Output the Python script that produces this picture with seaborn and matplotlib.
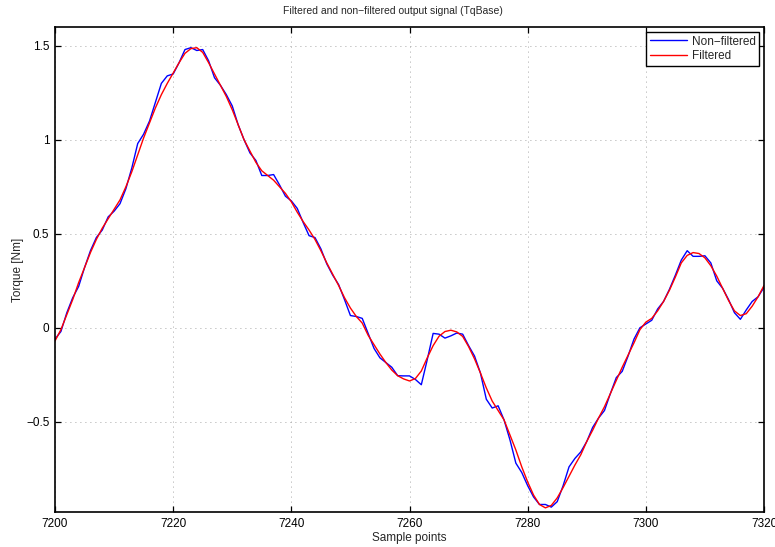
import numpy as np
import pandas as pd
import matplotlib
matplotlib.use("Agg")
import matplotlib.pyplot as plt
import seaborn as sns

# Sample index of the torque record
samples = list(range(7200, 7321))

# Raw torque output (TqBase), one value per sample
torque_raw = [
    -0.06, -0.02, 0.08, 0.16, 0.22, 0.32, 0.41, 0.48, 0.52, 0.59,
    0.62, 0.66, 0.74, 0.85, 0.98, 1.03, 1.10, 1.20, 1.30, 1.34,
    1.35, 1.41, 1.48, 1.49, 1.475, 1.48, 1.42, 1.33, 1.29, 1.24,
    1.18, 1.08, 1.00, 0.93, 0.89, 0.81, 0.81, 0.815, 0.76, 0.70,
    0.675, 0.635, 0.56, 0.49, 0.48, 0.42, 0.34, 0.28, 0.23, 0.15,
    0.065, 0.06, 0.05, -0.03, -0.11, -0.16, -0.185, -0.21, -0.255, -0.256,
    -0.256, -0.275, -0.303, -0.17, -0.03, -0.034, -0.055, -0.043, -0.028, -0.034,
    -0.095, -0.15, -0.24, -0.38, -0.427, -0.415, -0.49, -0.596, -0.72, -0.77,
    -0.84, -0.90, -0.94, -0.94, -0.954, -0.925, -0.84, -0.74, -0.695, -0.66,
    -0.605, -0.53, -0.48, -0.44, -0.35, -0.265, -0.232, -0.15, -0.06, 0.0,
    0.02, 0.04, 0.10, 0.14, 0.205, 0.28, 0.36, 0.41, 0.38, 0.38,
    0.383, 0.345, 0.25, 0.21, 0.15, 0.08, 0.045, 0.095, 0.14, 0.165,
    0.215,
]

# Filtered torque output, one value per sample
torque_filtered = [
    -0.07, -0.01, 0.07, 0.15, 0.24, 0.32, 0.40, 0.47, 0.53, 0.58,
    0.63, 0.68, 0.75, 0.83, 0.92, 1.01, 1.09, 1.17, 1.24, 1.30,
    1.355, 1.41, 1.46, 1.485, 1.49, 1.465, 1.41, 1.35, 1.29, 1.23,
    1.16, 1.08, 1.00, 0.94, 0.88, 0.835, 0.81, 0.785, 0.75, 0.715,
    0.67, 0.615, 0.565, 0.52, 0.47, 0.41, 0.345, 0.285, 0.225, 0.16,
    0.105, 0.06, 0.025, -0.04, -0.09, -0.14, -0.185, -0.225, -0.255, -0.272,
    -0.283, -0.27, -0.23, -0.16, -0.095, -0.045, -0.02, -0.013, -0.022, -0.046,
    -0.10, -0.165, -0.24, -0.32, -0.39, -0.44, -0.49, -0.57, -0.65, -0.74,
    -0.82, -0.89, -0.94, -0.958, -0.945, -0.905, -0.85, -0.79, -0.73, -0.675,
    -0.605, -0.545, -0.48, -0.42, -0.35, -0.28, -0.21, -0.145, -0.08, -0.01,
    0.03, 0.05, 0.09, 0.14, 0.20, 0.27, 0.345, 0.385, 0.40, 0.395,
    0.372, 0.33, 0.275, 0.21, 0.145, 0.09, 0.065, 0.075, 0.115, 0.165,
    0.225,
]

series_names = ["Non\u2212filtered", "Filtered"]
series_colors = ["#0000ff", "#ff0000"]

x_ticks = [7200, 7220, 7240, 7260, 7280, 7300, 7320]
y_ticks = [-0.5, 0, 0.5, 1, 1.5]
y_tick_labels = ["\u22120.5", "0", "0.5", "1", "1.5"]

df = pd.DataFrame({
    "sample": samples * 2,
    "torque": torque_raw + torque_filtered,
    "signal": [series_names[0]] * len(samples) + [series_names[1]] * len(samples),
})

sns.set_theme(style="white")
plt.rcParams["font.family"] = ["Liberation Sans", "DejaVu Sans"]
plt.rcParams["axes.unicode_minus"] = True

fig = plt.figure(figsize=(7.75, 5.47), dpi=100)
ax = fig.add_axes([55 / 775, 35 / 547, 709 / 775, 485 / 547])

sns.lineplot(
    data=df, x="sample", y="torque", hue="signal",
    hue_order=series_names, palette=dict(zip(series_names, series_colors)),
    estimator=None, sort=False, linewidth=1.0, ax=ax,
)

ax.set_xlim(7200, 7320)
ax.set_ylim(-0.98, 1.6)
ax.set_xticks(x_ticks)
ax.set_xticklabels([str(t) for t in x_ticks])
ax.set_yticks(y_ticks)
ax.set_yticklabels(y_tick_labels)

ax.grid(True, color="#8a8a8a", linestyle=(0, (1, 5)), linewidth=0.6)
ax.set_axisbelow(True)
for side in ax.spines.values():
    side.set_visible(True)
    side.set_color("black")
    side.set_linewidth(1.2)
ax.tick_params(axis="both", which="major", direction="in", length=4.5, width=0.9,
               colors="black", labelsize=8.5, top=True, right=True,
               bottom=True, left=True, pad=4)

ax.set_title("Filtered and non\u2212filtered output signal (TqBase)",
             fontsize=7.5, pad=9, x=0.477)
ax.set_xlabel("Sample points", fontsize=8.5, labelpad=2)
ax.set_ylabel("Torque [Nm]", fontsize=8.5, labelpad=1.5)

handles, labels = ax.get_legend_handles_labels()
leg = ax.legend(
    handles, labels, loc="upper right",
    bbox_to_anchor=(759 / 775, 1 - 32 / 547), bbox_transform=fig.transFigure,
    borderaxespad=0, fontsize=8.5, frameon=True, fancybox=False,
    framealpha=1, edgecolor="black", handlelength=3.2, handletextpad=0.35,
    labelspacing=0.25, borderpad=0.3,
)
leg.get_frame().set_linewidth(1.0)

fig.savefig("out.png", dpi=100, facecolor="white")
